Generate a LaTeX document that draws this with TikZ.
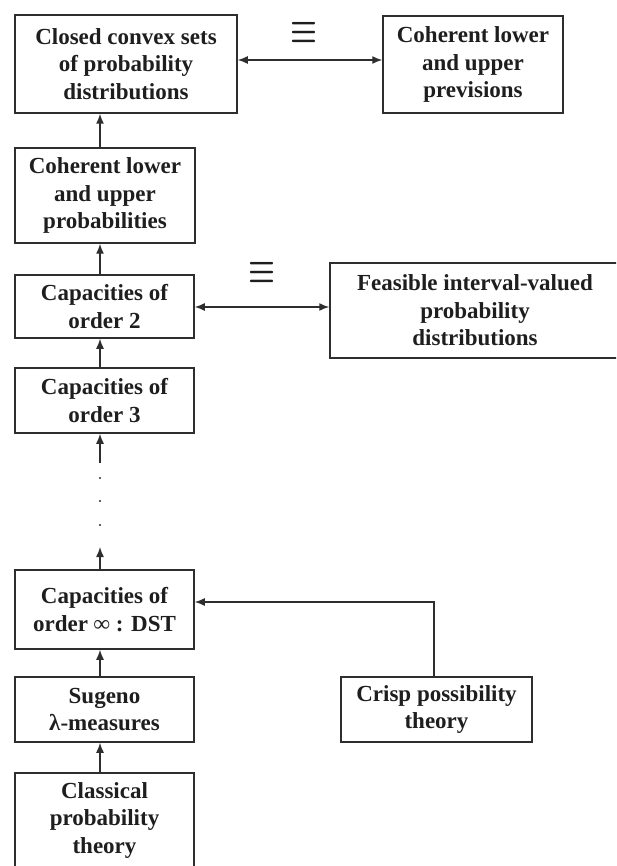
\documentclass[tikz,border=0pt]{standalone}
\usepackage{amsmath}
\usepackage{graphicx}
\usepackage{fontspec}
\setmainfont{Liberation Serif}
\usetikzlibrary{arrows.meta}
\definecolor{ink}{HTML}{1E1E1E}
\definecolor{rule}{HTML}{2E2E2E}
\newcommand{\eqmark}{\resizebox{27pt}{20pt}{$\boldsymbol{\equiv}$}}
\begin{document}
\begin{tikzpicture}[x=1pt,y=-1pt,
  box/.style={draw=rule, line width=1.5pt, align=center, inner sep=0pt,
    text=ink, font=\bfseries\fontsize{23}{27.5}\selectfont},
  link/.style={draw=rule, line width=1.4pt,
    -{Latex[length=10pt,width=8pt]}},
  both/.style={link, {Latex[length=10pt,width=8pt]}-{Latex[length=10pt,width=8pt]}},
  eqv/.style={text=ink, inner sep=0pt},
  dotmark/.style={circle, fill=rule, inner sep=0pt, minimum size=2.4pt}]
  \useasboundingbox (0,0) rectangle (616,866);
  \clip (0,0) rectangle (616,866);

  % boxes: centre, width, height
  \node[box, minimum width=222pt, minimum height=98pt] (closed) at (126,64)
    {Closed convex sets\\of probability\\distributions};
  \node[box, minimum width=180pt, minimum height=97pt] (prev) at (473,64.5)
    {Coherent lower\\and upper\\previsions};
  \node[box, minimum width=180pt, minimum height=95pt] (cohprob) at (105,195.5)
    {Coherent lower\\and upper\\probabilities};
  \node[box, minimum width=179pt, minimum height=63pt] (cap2) at (104.5,306.5)
    {Capacities of\\order 2};
  \node[box, minimum width=290pt, minimum height=95pt] (feas) at (475,310.5)
    {Feasible interval-valued\\probability\\distributions};
  \node[box, minimum width=179pt, minimum height=65pt] (cap3) at (104.5,400.5)
    {Capacities of\\order 3};
  \node[box, minimum width=179pt, minimum height=79pt] (capinf) at (104.5,609.5)
    {Capacities of\\order ∞ : DST};
  \node[box, minimum width=191pt, minimum height=65pt] (crisp) at (436.5,709.5)
    {Crisp possibility\\theory};
  \node[box, minimum width=179pt, minimum height=65pt] (sugeno) at (104.5,709.5)
    {Sugeno\\λ-measures};
  \node[box, minimum width=179pt, minimum height=94pt] (classic) at (104.5,820)
    {Classical\\probability\\theory};

  % equivalence marks
  \node[eqv] (eqa) at (303.5,33) {\eqmark};
  \node[eqv] (eqb) at (262,273) {\eqmark};

  % vertical spine
  \coordinate (ax) at (100,0);
  \draw[link] (cohprob.north -| ax) -- (closed.south -| ax);
  \draw[link] (cap2.north -| ax) -- (cohprob.south -| ax);
  \draw[link] (cap3.north -| ax) -- (cap2.south -| ax);
  \coordinate (gapTop) at (100,463);
  \coordinate (gapBot) at (100,547);
  \draw[link] (gapTop) -- (cap3.south -| ax);
  \node[dotmark] (d1) at (100,478) {};
  \node[dotmark] (d2) at (100,501) {};
  \node[dotmark] (d3) at (100,525) {};
  \draw[link] (capinf.north -| ax) -- (gapBot);
  \draw[link] (sugeno.north -| ax) -- (capinf.south -| ax);
  \draw[link] (classic.north -| ax) -- (sugeno.south -| ax);

  % equivalences
  \coordinate (ya) at (0,60);
  \coordinate (yb) at (0,307);
  \draw[both] (closed.east |- ya) -- (prev.west |- ya);
  \draw[both] (cap2.east |- yb) -- (feas.west |- yb);

  % crisp possibility theory into DST
  \coordinate (bend) at (434,602);
  \draw[link] (crisp.north -| bend) -- (bend) -- (capinf.east |- bend);
\end{tikzpicture}
\end{document}
